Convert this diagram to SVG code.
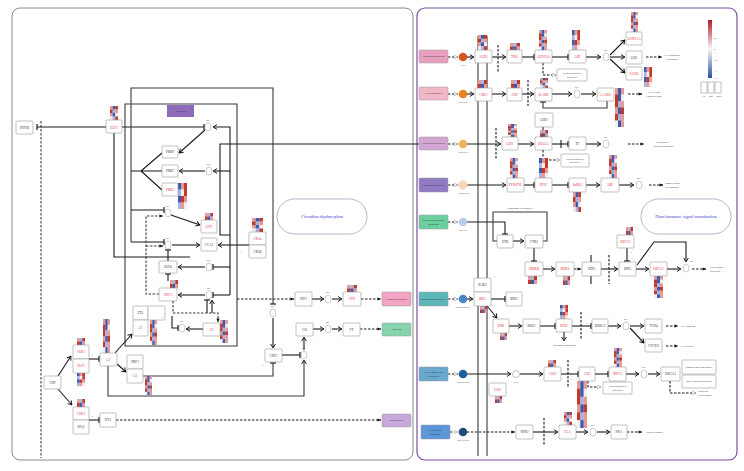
<svg xmlns="http://www.w3.org/2000/svg" xmlns:xlink="http://www.w3.org/1999/xlink" width="744" height="471" viewBox="0 0 744 471">
<style>
.bx{fill:#fff;stroke:#999;stroke-width:.6}
.tk{font-family:"Liberation Serif",serif;font-size:3.3px;fill:#333;text-anchor:middle}
.tr{font-family:"Liberation Serif",serif;font-size:3.3px;fill:#e8383d;text-anchor:middle}
.ts{font-family:"Liberation Serif",serif;font-size:2.3px;fill:#333;text-anchor:middle}
.tl{font-family:"Liberation Serif",serif;font-size:2.3px;fill:#333;text-anchor:start}
.dn{font-family:"Liberation Sans",sans-serif;font-size:2px;fill:#666;text-anchor:middle}
.l{fill:none;stroke:#1a1a1a;stroke-width:1.1}
.g{stroke:#3a3a3a}
.d{stroke-dasharray:2.5 1.5}
.dna{fill:#fff;stroke:#999;stroke-width:.5}
.src{stroke:#999;stroke-width:.5}
.ttl{font-family:"Liberation Serif",serif;font-size:4.5px;fill:#4040d0;text-anchor:middle}
</style>
<defs>
<marker id="a" viewBox="0 0 8 10" refX="7.5" refY="5" markerWidth="4.6" markerHeight="5.6" orient="auto"><path d="M1,1 L7,5 L1,9" fill="none" stroke="#1a1a1a" stroke-width="1.6"/></marker>
<marker id="f" viewBox="0 0 10 10" refX="9" refY="5" markerWidth="3.6" markerHeight="3.6" orient="auto"><path d="M0,1 L10,5 L0,9z" fill="#1a1a1a"/></marker>
<marker id="t" viewBox="0 0 2 10" refX="1" refY="5" markerWidth="1.4" markerHeight="5.4" orient="auto"><rect x="0" y="0" width="2" height="10" fill="#1a1a1a"/></marker>
<marker id="o" viewBox="0 0 10 10" refX="9" refY="5" markerWidth="4.4" markerHeight="4.4" orient="auto"><path d="M1,1 L9,5 L1,9z" fill="#fff" stroke="#888" stroke-width="1"/></marker>
<linearGradient id="lg" x1="0" y1="0" x2="0" y2="1"><stop offset="0" stop-color="#b2182b"/><stop offset=".5" stop-color="#f7f7f7"/><stop offset="1" stop-color="#2c4ea8"/></linearGradient>
<symbol id="h1" viewBox="0 0 3 4" preserveAspectRatio="none"><rect x="0" y="0" width="1.05" height="1.05" fill="#e59a9a"/><rect x="1" y="0" width="1.05" height="1.05" fill="#3b5bb0"/><rect x="2" y="0" width="1" height="1.05" fill="#c0392b"/><rect x="0" y="1" width="1.05" height="1.05" fill="#c0392b"/><rect x="1" y="1" width="1.05" height="1.05" fill="#a6b4de"/><rect x="2" y="1" width="1" height="1.05" fill="#e59a9a"/><rect x="0" y="2" width="1.05" height="1.05" fill="#e59a9a"/><rect x="1" y="2" width="1.05" height="1.05" fill="#3b5bb0"/><rect x="2" y="2" width="1" height="1.05" fill="#f3eeee"/><rect x="0" y="3" width="1.05" height="1" fill="#f3eeee"/><rect x="1" y="3" width="1.05" height="1" fill="#a6b4de"/><rect x="2" y="3" width="1" height="1" fill="#c0392b"/></symbol>
<symbol id="h2" viewBox="0 0 3 4" preserveAspectRatio="none"><rect x="0" y="0" width="1.05" height="1.05" fill="#3b5bb0"/><rect x="1" y="0" width="1.05" height="1.05" fill="#e59a9a"/><rect x="2" y="0" width="1" height="1.05" fill="#c0392b"/><rect x="0" y="1" width="1.05" height="1.05" fill="#a6b4de"/><rect x="1" y="1" width="1.05" height="1.05" fill="#f3eeee"/><rect x="2" y="1" width="1" height="1.05" fill="#c0392b"/><rect x="0" y="2" width="1.05" height="1.05" fill="#3b5bb0"/><rect x="1" y="2" width="1.05" height="1.05" fill="#c0392b"/><rect x="2" y="2" width="1" height="1.05" fill="#e59a9a"/><rect x="0" y="3" width="1.05" height="1" fill="#a6b4de"/><rect x="1" y="3" width="1.05" height="1" fill="#e59a9a"/><rect x="2" y="3" width="1" height="1" fill="#f3eeee"/></symbol>
<symbol id="h3" viewBox="0 0 3 2" preserveAspectRatio="none"><rect x="0" y="0" width="1.05" height="1.05" fill="#e59a9a"/><rect x="1" y="0" width="1.05" height="1.05" fill="#a6b4de"/><rect x="2" y="0" width="1" height="1.05" fill="#c0392b"/><rect x="0" y="1" width="1.05" height="1" fill="#c0392b"/><rect x="1" y="1" width="1.05" height="1" fill="#3b5bb0"/><rect x="2" y="1" width="1" height="1" fill="#e59a9a"/></symbol>
<symbol id="h4" viewBox="0 0 3 6" preserveAspectRatio="none"><rect x="0" y="0" width="1.05" height="1.05" fill="#e59a9a"/><rect x="1" y="0" width="1.05" height="1.05" fill="#3b5bb0"/><rect x="2" y="0" width="1" height="1.05" fill="#e59a9a"/><rect x="0" y="1" width="1.05" height="1.05" fill="#c0392b"/><rect x="1" y="1" width="1.05" height="1.05" fill="#3b5bb0"/><rect x="2" y="1" width="1" height="1.05" fill="#f3eeee"/><rect x="0" y="2" width="1.05" height="1.05" fill="#c0392b"/><rect x="1" y="2" width="1.05" height="1.05" fill="#a6b4de"/><rect x="2" y="2" width="1" height="1.05" fill="#e59a9a"/><rect x="0" y="3" width="1.05" height="1.05" fill="#e59a9a"/><rect x="1" y="3" width="1.05" height="1.05" fill="#3b5bb0"/><rect x="2" y="3" width="1" height="1.05" fill="#c0392b"/><rect x="0" y="4" width="1.05" height="1.05" fill="#c0392b"/><rect x="1" y="4" width="1.05" height="1.05" fill="#a6b4de"/><rect x="2" y="4" width="1" height="1.05" fill="#e59a9a"/><rect x="0" y="5" width="1.05" height="1" fill="#f3eeee"/><rect x="1" y="5" width="1.05" height="1" fill="#3b5bb0"/><rect x="2" y="5" width="1" height="1" fill="#e59a9a"/></symbol>
</defs>
<rect width="744" height="471" fill="#fff"/>
<rect x="12" y="8" width="401" height="452" rx="8" fill="none" stroke="#8a8a8a" stroke-width="1"/>
<rect x="417" y="8" width="320" height="452" rx="8" fill="none" stroke="#7b4f9d" stroke-width="1.2"/>

<g id="connectors">
<path class="l" d="M106,127H37" marker-end="url(#t)"/>
<path class="l d g" d="M41,121V458"/>
<path class="l" d="M122,127H204" marker-end="url(#t)"/>
<path class="l" d="M230,295V127H213" marker-end="url(#a)"/>
<path class="l" d="M230,171H213" marker-end="url(#a)"/>
<path class="l" d="M230,267H213" marker-end="url(#t)"/>
<path class="l" d="M230,295H213" marker-end="url(#t)"/>
<path class="l" d="M205,130L179,153" marker-end="url(#a)"/>
<path class="l" d="M205,171H179" marker-end="url(#a)"/>
<path class="l" d="M205,267H178" marker-end="url(#a)"/>
<path class="l" d="M205,295H178" marker-end="url(#a)"/>
<path class="l" d="M419,144H220V235H230"/>
<path class="l g" d="M131,242V88H273V304" marker-end="url(#t)"/>
<path class="l" d="M131,171H141M162,153L141,171L162,171M141,171L162,190"/>
<path class="l" d="M131,210H164" marker-end="url(#t)"/>
<path class="l" d="M131,242H164" marker-end="url(#t)"/>
<path class="l d g" d="M159,294H146V216H163" marker-end="url(#f)"/>
<path class="l d g" d="M146,246H163" marker-end="url(#f)"/>
<path class="l" d="M171,215L200,225" marker-end="url(#a)"/>
<path class="l" d="M172,245H200" marker-end="url(#a)"/>
<path class="l" d="M249,245H218" marker-end="url(#a)"/>
<path class="l" d="M168,261V250" marker-end="url(#t)"/>
<path class="l" d="M168,281V274" marker-end="url(#t)"/>
<path class="l g" d="M125,346V104H237V346Z"/>
<path class="l" d="M114,133V257H190"/>
<path class="l d g" d="M173,301V313H218V322" marker-end="url(#f)"/>
<path class="l" d="M212,313V300" marker-end="url(#a)"/>
<path class="l" d="M207,313V300" marker-end="url(#t)"/>
<path class="l" d="M172,316V328H178" marker-end="url(#t)"/>
<path class="l" d="M203,329H186" marker-end="url(#a)"/>
<path class="l" d="M273,318V348" marker-end="url(#a)"/>
<path class="l" d="M282,355H300" marker-end="url(#t)"/>
<path class="l" d="M304,350V337" marker-end="url(#a)"/>
<path class="l" d="M313,329H324" marker-end="url(#a)"/>
<path class="l" d="M332,329H342" marker-end="url(#a)"/>
<path class="l d" d="M360,329H381" marker-end="url(#f)"/>
<path class="l d" d="M237,299H294" marker-end="url(#f)"/>
<path class="l" d="M312,299H324" marker-end="url(#a)"/>
<path class="l" d="M332,299H342" marker-end="url(#a)"/>
<path class="l d" d="M361,299H381" marker-end="url(#f)"/>
<path class="l g" d="M108,366V396H304V360" marker-end="url(#a)"/>
<path class="l g" d="M143,376H273V363" marker-end="url(#t)"/>
<path class="l" d="M115,353L132,334" marker-end="url(#a)"/>
<path class="l" d="M117,364L126,372" marker-end="url(#a)"/>
<path class="l" d="M89,359H99" marker-end="url(#t)"/>
<path class="l" d="M58,376L71,356" marker-end="url(#a)"/>
<path class="l" d="M58,389L72,405" marker-end="url(#a)"/>
<path class="l" d="M89,420H99" marker-end="url(#t)"/>
<path class="l d" d="M116,420H381" marker-end="url(#f)"/>
<path class="l g" d="M478,36V456M487,36V456" stroke-width=".8"/>
<path class="l d" d="M448,57H458" marker-end="url(#o)"/>
<path class="l d" d="M448,94H458" marker-end="url(#o)"/>
<path class="l d" d="M448,144H458" marker-end="url(#o)"/>
<path class="l d" d="M448,185H458" marker-end="url(#o)"/>
<path class="l d" d="M448,222H458" marker-end="url(#o)"/>
<path class="l d" d="M448,299H458" marker-end="url(#o)"/>
<path class="l d" d="M448,374H458" marker-end="url(#o)"/>
<path class="l d" d="M450,432H458" marker-end="url(#o)"/>
<path class="l" d="M467,57H474" marker-end="url(#a)"/>
<path class="l" d="M492,57H506" marker-end="url(#a)"/>
<path class="l d" d="M498,45V72"/>
<path class="l" d="M522,57H534" marker-end="url(#t)"/>
<path class="l" d="M552,57H568" marker-end="url(#t)"/>
<path class="l" d="M586,57H601" marker-end="url(#a)"/>
<path class="l" d="M610,55L625,40" marker-end="url(#a)"/>
<path class="l" d="M610,57H625" marker-end="url(#a)"/>
<path class="l" d="M610,59L625,73" marker-end="url(#a)"/>
<path class="l d" d="M646,57H662" marker-end="url(#f)"/>
<path class="l d" d="M543,63V75H556" marker-end="url(#o)"/>
<path class="l" d="M467,94H474" marker-end="url(#a)"/>
<path class="l" d="M492,94H506" marker-end="url(#a)"/>
<path class="l" d="M522,94H534" marker-end="url(#a)"/>
<path class="l d" d="M528,80V106"/>
<path class="l" d="M552,94H572" marker-end="url(#a)"/>
<path class="l" d="M581,94H596" marker-end="url(#a)"/>
<path class="l d" d="M628,94H642" marker-end="url(#f)"/>
<path class="l g" d="M607,101V108H543V102" marker-end="url(#t)"/>
<path class="l" d="M467,144H501" marker-end="url(#a)"/>
<path class="l d" d="M496,128V160"/>
<path class="l" d="M518,144H534" marker-end="url(#a)"/>
<path class="l" d="M543,127V136" marker-end="url(#t)"/>
<path class="l" d="M552,144H568" marker-end="url(#t)"/>
<path class="l" d="M561,140V148"/>
<path class="l" d="M586,144H601" marker-end="url(#a)"/>
<path class="l d" d="M628,144H644" marker-end="url(#f)"/>
<path class="l d" d="M543,150V160H560" marker-end="url(#o)"/>
<path class="l" d="M467,185H506" marker-end="url(#a)"/>
<path class="l" d="M524,185H534" marker-end="url(#t)"/>
<path class="l" d="M552,185H568" marker-end="url(#t)"/>
<path class="l" d="M586,185H600" marker-end="url(#a)"/>
<path class="l" d="M619,185H634" marker-end="url(#a)"/>
<path class="l d" d="M649,185H663" marker-end="url(#f)"/>
<path class="l" d="M467,222H505V234" marker-end="url(#t)"/>
<path class="l g" d="M497,241H493V212H547V241H543"/>
<path class="l" d="M513,241H524" marker-end="url(#a)"/>
<path class="l" d="M534,248V261" marker-end="url(#t)"/>
<path class="l" d="M543,269H555" marker-end="url(#a)"/>
<path class="l d" d="M574,269H581" marker-end="url(#f)"/>
<path class="l" d="M591,255V284"/>
<path class="l" d="M601,269H618" marker-end="url(#a)"/>
<path class="l d" d="M609,255V284"/>
<path class="l" d="M627,248V261" marker-end="url(#t)"/>
<path class="l" d="M636,269H649" marker-end="url(#a)"/>
<path class="l" d="M637,265L654,242H686V262" marker-end="url(#a)"/>
<path class="l" d="M667,269H681" marker-end="url(#a)"/>
<path class="l d" d="M692,269H706" marker-end="url(#f)"/>
<path class="l" d="M467,299H473" marker-end="url(#a)"/>
<path class="l" d="M491,299H505" marker-end="url(#t)"/>
<path class="l" d="M487,306L497,318" marker-end="url(#a)"/>
<path class="l" d="M509,326H522" marker-end="url(#a)"/>
<path class="l" d="M540,326H555" marker-end="url(#t)"/>
<path class="l" d="M564,332V341" marker-end="url(#a)"/>
<path class="l" d="M572,326H591" marker-end="url(#t)"/>
<path class="l d" d="M581,312V340"/>
<path class="l" d="M608,326H621" marker-end="url(#a)"/>
<path class="l" d="M630,326H644" marker-end="url(#a)"/>
<path class="l" d="M630,328L644,343" marker-end="url(#a)"/>
<path class="l d" d="M666,326H678" marker-end="url(#f)"/>
<path class="l d" d="M666,346H678" marker-end="url(#f)"/>
<path class="l" d="M467,374H511" marker-end="url(#a)"/>
<path class="l" d="M520,374H543" marker-end="url(#a)"/>
<path class="l" d="M561,374H578" marker-end="url(#t)"/>
<path class="l d" d="M568,360V388"/>
<path class="l" d="M595,374H608" marker-end="url(#t)"/>
<path class="l" d="M626,374H639" marker-end="url(#a)"/>
<path class="l" d="M648,374H660" marker-end="url(#a)"/>
<path class="l d" d="M588,381V387H601" marker-end="url(#o)"/>
<path class="l d" d="M670,381V393H696" marker-end="url(#o)"/>
<path class="l d" d="M467,432H515" marker-end="url(#f)"/>
<path class="l" d="M533,432H558" marker-end="url(#a)"/>
<path class="l d" d="M544,418V446"/>
<path class="l" d="M576,432H588" marker-end="url(#a)"/>
<path class="l" d="M597,432H610" marker-end="url(#a)"/>
<path class="l d" d="M627,432H642" marker-end="url(#f)"/>
</g>

<g id="n-PHYB"><rect class="bx" x="16" y="121" width="17" height="13" rx="1"/><text class="tk" x="24.5" y="128.6">PHYB</text></g>
<g id="n-ELF3"><use href="#h1" x="110" y="106" width="8" height="14"/><rect class="bx" x="106" y="120" width="16" height="13" rx="1"/><text class="tr" x="114" y="128.6">ELF3</text></g>
<g id="n-cold"><rect x="167" y="105" width="27" height="12" fill="#8e6bb8"/><text class="ts" x="180.5" y="112">Cold stress</text></g>
<g id="n-PRR9"><rect class="bx" x="162" y="146" width="16" height="12" rx="1"/><text class="tk" x="170" y="153.1">PRR9</text></g>
<g id="n-PRR7"><rect class="bx" x="162" y="165" width="16" height="12" rx="1"/><text class="tk" x="170" y="172.1">PRR7</text></g>
<g id="n-PRR5"><use href="#h2" x="178" y="183" width="9" height="26"/><rect class="bx" x="162" y="183" width="16" height="13" rx="1"/><text class="tr" x="170" y="190.6">PRR5</text></g>
<g id="n-LHY"><use href="#h3" x="205" y="213" width="8" height="7"/><rect class="bx" x="201" y="220" width="16" height="13" rx="1"/><text class="tr" x="209" y="227.6">LHY</text></g>
<g id="n-CCA1"><rect class="bx" x="201" y="238" width="16" height="13" rx="1"/><text class="tk" x="209" y="245.6">CCA1</text></g>
<g id="n-CK2"><use href="#h1" x="252" y="218" width="11" height="14"/><rect class="bx" x="249" y="232" width="17" height="13" rx="1"/><text class="tr" x="257.5" y="239.6">CK2α</text><rect class="bx" x="249" y="245" width="17" height="13" rx="1"/><text class="tk" x="257.5" y="252.6">CK2β</text><text class="dn" x="241" y="252">?</text></g>
<g id="n-ELF4"><rect class="bx" x="159" y="261" width="18" height="12" rx="1"/><text class="tk" x="168" y="268.1">ELF4</text></g>
<g id="n-TOC1"><use href="#h3" x="170" y="280" width="8" height="8"/><rect class="bx" x="159" y="288" width="18" height="13" rx="1"/><text class="tr" x="168" y="295.6">TOC1</text></g>
<g id="n-ZTL"><rect class="bx" x="133" y="306" width="15" height="14" rx="1"/><text class="tk" x="140.5" y="314.1">ZTL</text><rect class="bx" x="148" y="306" width="17" height="14" rx="1"/><text class="dn" x="162" y="318">?</text></g>
<g id="n-GIa"><use href="#h4" x="150" y="320" width="7" height="25"/><rect class="bx" x="133" y="320" width="15" height="16" rx="1"/><text class="tr" x="140.5" y="329.1">GI</text></g>
<g id="n-GIb"><use href="#h4" x="220" y="320" width="8" height="23"/><rect class="bx" x="203" y="323" width="17" height="13" rx="1"/><text class="tr" x="211.5" y="330.6">GI</text></g>
<g id="n-CRY"><rect class="bx" x="44" y="376" width="17" height="13" rx="1"/><text class="tk" x="52.5" y="383.6">CRY</text></g>
<g id="n-COP1a"><use href="#h3" x="77" y="338" width="8" height="7"/><use href="#h2" x="77" y="373" width="8" height="13"/><rect class="bx" x="73" y="345" width="16" height="14" rx="1"/><text class="tr" x="81" y="353.1">COP1</text><rect class="bx" x="73" y="359" width="16" height="14" rx="1"/><text class="tr" x="81" y="367.1">ELF3</text><text class="dn" x="92" y="356">?</text></g>
<g id="n-COP1b"><use href="#h3" x="77" y="399" width="8" height="8"/><rect class="bx" x="73" y="407" width="16" height="13" rx="1"/><text class="tr" x="81" y="414.6">COP1</text><rect class="bx" x="73" y="420" width="16" height="14" rx="1"/><text class="tk" x="81" y="428.1">SPA1</text><text class="dn" x="92" y="417">?</text></g>
<g id="n-GIc"><use href="#h4" x="103" y="319" width="7" height="34"/><rect class="bx" x="100" y="353" width="17" height="13" rx="1"/><text class="tr" x="108.5" y="360.6">GI</text></g>
<g id="n-FKF1"><rect class="bx" x="127" y="355" width="16" height="14" rx="1"/><text class="tk" x="135" y="363.1">FKF1</text></g>
<g id="n-GId"><use href="#h4" x="145" y="376" width="7" height="19"/><rect class="bx" x="127" y="369" width="16" height="14" rx="1"/><text class="tr" x="135" y="377.1">GI</text></g>
<g id="n-HY5"><rect class="bx" x="100" y="413" width="16" height="14" rx="1"/><text class="tk" x="108" y="421.1">HY5</text></g>
<g id="n-CDF1"><rect class="bx" x="265" y="349" width="17" height="13" rx="1"/><text class="tk" x="273.5" y="356.6">CDF1</text><text class="dn" x="263" y="366">?</text></g>
<g id="n-CO"><rect class="bx" x="296" y="323" width="17" height="13" rx="1"/><text class="tk" x="304.5" y="330.6">CO</text></g>
<g id="n-FT"><rect class="bx" x="343" y="323" width="17" height="13" rx="1"/><text class="tk" x="351.5" y="330.6">FT</text></g>
<g id="n-PIF3"><rect class="bx" x="295" y="292" width="17" height="14" rx="1"/><text class="tk" x="303.5" y="300.1">PIF3</text></g>
<g id="n-CHS"><use href="#h3" x="347" y="285" width="10" height="7"/><rect class="bx" x="343" y="292" width="18" height="14" rx="1"/><text class="tr" x="352" y="300.1">CHS</text></g>
<g id="n-flav"><rect class="src" x="382" y="292" width="29" height="14" rx="1" fill="#f4a3c4"/><text class="ts" x="396.5" y="299.8">Flavonoid biosynthesis</text></g>
<g id="n-flow"><rect class="src" x="382" y="323" width="29" height="13" rx="1" fill="#86d4ae"/><text class="ts" x="396.5" y="330.3">Flowering</text></g>
<g id="n-photo"><rect class="src" x="382" y="414" width="29" height="13" rx="1" fill="#c9a9dc"/><text class="ts" x="396.5" y="421.3">Photosynthesis</text></g>
<g id="n-circ"><rect x="277" y="199" width="90" height="35" rx="17.5" fill="#fff" stroke="#9a9ab8" stroke-width=".7"/><text class="ttl" x="322" y="218">Circadian rhythm-plant</text></g>
<g id="dna-left">
<ellipse class="dna" cx="208" cy="127" rx="3" ry="4"/><text class="dn" x="208" y="121">DNA</text>
<ellipse class="dna" cx="209" cy="171" rx="3" ry="4"/><text class="dn" x="209" y="165">DNA</text>
<ellipse class="dna" cx="168" cy="213" rx="3" ry="4"/><text class="dn" x="168" y="207">DNA</text>
<ellipse class="dna" cx="168" cy="245" rx="3" ry="4"/><text class="dn" x="168" y="239">DNA</text>
<ellipse class="dna" cx="209" cy="267" rx="3" ry="4"/><text class="dn" x="209" y="261">DNA</text>
<ellipse class="dna" cx="209" cy="295" rx="3" ry="4"/><text class="dn" x="209" y="289">DNA</text>
<ellipse class="dna" cx="182" cy="328" rx="3" ry="4"/><text class="dn" x="182" y="322">DNA</text>
<ellipse class="dna" cx="273" cy="313" rx="3" ry="4"/><text class="dn" x="273" y="307">DNA</text>
<ellipse class="dna" cx="304" cy="355" rx="3" ry="4"/><text class="dn" x="304" y="349">DNA</text>
<ellipse class="dna" cx="328" cy="299" rx="3" ry="4"/><text class="dn" x="328" y="293">DNA</text>
<ellipse class="dna" cx="328" cy="329" rx="3" ry="4"/><text class="dn" x="328" y="323">DNA</text>
</g>

<g id="n-src1"><rect class="src" x="419" y="50" width="29" height="13" rx="1" fill="#e9a0c0"/><text class="ts" x="433.5" y="57.3">Tryptophan metabolism</text><circle cx="463" cy="57" r="4.3" fill="#d4561e"/><text class="dn" x="463" y="65.5">Auxin</text></g>
<g id="n-src2"><rect class="src" x="419" y="87" width="29" height="13" rx="1" fill="#f2b8c8"/><text class="ts" x="433.5" y="94.3">Zeatin biosynthesis</text><circle cx="463" cy="94" r="4.3" fill="#e8841d"/><text class="dn" x="463" y="102.5">Cytokinine</text></g>
<g id="n-src3"><rect class="src" x="419" y="137" width="29" height="13" rx="1" fill="#d4a6d4"/><text class="ts" x="433.5" y="144.3">Diterpenoid biosynthesis</text><circle cx="463" cy="144" r="4.3" fill="#f2b25c"/><text class="dn" x="463" y="152.5">Gibberellin</text></g>
<g id="n-src4"><rect class="src" x="419" y="178" width="29" height="14" rx="1" fill="#8f7cc4"/><text class="ts" x="433.5" y="185.8">Carotenoid biosynthesis</text><circle cx="463" cy="185" r="4.3" fill="#fbd8b5" stroke="#ccc" stroke-width=".4"/><text class="dn" x="463" y="193.5">Abscisic acid</text></g>
<g id="n-src5"><rect class="src" x="419" y="215" width="29" height="14" rx="1" fill="#6ccf9f"/><text class="ts" x="433.5" y="221">Cysteine and methionine</text><text class="ts" x="433.5" y="224.5">metabolism</text><circle cx="463" cy="222" r="4.3" fill="#b7cdea"/><text class="dn" x="463" y="230.5">Ethylene</text></g>
<g id="n-src6"><rect class="src" x="419" y="292" width="29" height="14" rx="1" fill="#5cb8b8"/><text class="ts" x="433.5" y="299.8">Brassinosteroid biosynthesis</text><circle cx="463" cy="299" r="4.3" fill="#4a87c6"/><text class="dn" x="463" y="307.5">Brassinosteroid</text></g>
<g id="n-src7"><rect class="src" x="419" y="367" width="29" height="14" rx="1" fill="#6aa8d0"/><text class="ts" x="433.5" y="373">alpha-Linolenic acid</text><text class="ts" x="433.5" y="376.5">metabolism</text><circle cx="463" cy="374" r="4.3" fill="#1f5e9c"/><text class="dn" x="463" y="382.5">Jasmonic acid</text></g>
<g id="n-src8"><rect class="src" x="421" y="425" width="29" height="14" rx="1" fill="#5a96d8"/><text class="ts" x="435.5" y="431">Phenylalanine</text><text class="ts" x="435.5" y="434.5">metabolism</text><circle cx="463" cy="432" r="4.3" fill="#1f4d80"/><text class="dn" x="463" y="440.5">Salicylic acid</text></g>

<g id="n-AUX1"><use href="#h1" x="478" y="35" width="9" height="15"/><rect class="bx" x="475" y="50" width="17" height="13" rx="1"/><text class="tr" x="483.5" y="57.6">AUX1</text></g>
<g id="n-TIR1"><use href="#h3" x="510" y="43" width="10" height="7"/><rect class="bx" x="507" y="50" width="15" height="13" rx="1"/><text class="tr" x="514.5" y="57.6">TIR1</text></g>
<g id="n-AUXIAA"><use href="#h4" x="539" y="30" width="8" height="20"/><rect class="bx" x="535" y="50" width="17" height="13" rx="1"/><text class="tr" x="543.5" y="57.6">AUX/IAA</text></g>
<g id="n-ARF"><use href="#h2" x="572" y="30" width="8" height="20"/><rect class="bx" x="569" y="50" width="17" height="13" rx="1"/><text class="tr" x="577.5" y="57.6">ARF</text></g>
<g id="n-AUXIAA2"><use href="#h4" x="631" y="12" width="7" height="20"/><rect class="bx" x="626" y="32" width="16" height="13" rx="1"/><text class="tr" x="634" y="39.6">AUX/IAA</text></g>
<g id="n-GH3"><rect class="bx" x="626" y="51" width="16" height="13" rx="1"/><text class="tk" x="634" y="58.6">GH3</text></g>
<g id="n-SAUR"><use href="#h2" x="644" y="67" width="8" height="20"/><rect class="bx" x="626" y="67" width="16" height="13" rx="1"/><text class="tr" x="634" y="74.6">SAUR</text></g>
<g id="n-ub1"><rect class="bx" x="557" y="69" width="30" height="12" rx="1"/><text class="ts" x="572" y="74.3">Ubiquitin mediated</text><text class="ts" x="572" y="77.8">proteolysis</text></g>
<g id="n-out1"><text class="tl" x="664" y="56">Cell enlargement</text><text class="tl" x="666" y="59.5">Plant growth</text></g>

<g id="n-CRE1"><use href="#h3" x="478" y="80" width="9" height="8"/><rect class="bx" x="475" y="88" width="17" height="13" rx="1"/><text class="tr" x="483.5" y="95.6">CRE1</text><text class="dn" x="499" y="92">?</text></g>
<g id="n-AHP"><use href="#h3" x="511" y="80" width="9" height="8"/><rect class="bx" x="507" y="88" width="15" height="13" rx="1"/><text class="tr" x="514.5" y="95.6">AHP</text></g>
<g id="n-BARR"><use href="#h1" x="540" y="78" width="8" height="10"/><rect class="bx" x="535" y="88" width="17" height="13" rx="1"/><text class="tr" x="543.5" y="95.6">B-ARR</text></g>
<g id="n-AARR"><use href="#h4" x="615" y="88" width="9" height="39"/><rect class="bx" x="597" y="88" width="17" height="13" rx="1"/><text class="tr" x="605.5" y="95.6">A-ARR</text></g>
<g id="n-out2"><text class="tl" x="648" y="93">Cell division</text><text class="tl" x="647" y="96.5">Shoot initiation</text></g>

<g id="n-GID1"><use href="#h4" x="508" y="124" width="9" height="13"/><rect class="bx" x="502" y="137" width="16" height="13" rx="1"/><text class="tr" x="510" y="144.6">GID1</text></g>
<g id="n-GID2"><rect class="bx" x="535" y="113" width="18" height="14" rx="1"/><text class="tk" x="544" y="121.1">GID2</text></g>
<g id="n-DELLA"><use href="#h3" x="540" y="130" width="8" height="7"/><rect class="bx" x="535" y="137" width="17" height="13" rx="1"/><text class="tr" x="543.5" y="144.6">DELLA</text></g>
<g id="n-TF"><rect class="bx" x="569" y="137" width="17" height="13" rx="1"/><text class="tk" x="577.5" y="144.6">TF</text></g>
<g id="n-ub2"><rect class="bx" x="561" y="154" width="28" height="13" rx="1"/><text class="ts" x="575" y="159.6">Ubiquitin mediated</text><text class="ts" x="575" y="163.1">proteolysis</text></g>
<g id="n-out3"><text class="tl" x="656" y="143">Stem growth</text><text class="tl" x="654" y="146.5">Induced germination</text></g>

<g id="n-PYR"><use href="#h4" x="510" y="158" width="8" height="20"/><rect class="bx" x="507" y="178" width="17" height="14" rx="1"/><text class="tr" x="515.5" y="186.1">PYR/PYL</text></g>
<g id="n-PP2C"><use href="#h2" x="539" y="158" width="9" height="20"/><rect class="bx" x="535" y="178" width="17" height="14" rx="1"/><text class="tr" x="543.5" y="186.1">PP2C</text></g>
<g id="n-SnRK2"><use href="#h1" x="573" y="192" width="8" height="20"/><rect class="bx" x="569" y="178" width="17" height="14" rx="1"/><text class="tr" x="577.5" y="186.1">SnRK2</text></g>
<g id="n-ABF"><use href="#h4" x="609" y="155" width="8" height="23"/><rect class="bx" x="601" y="178" width="18" height="14" rx="1"/><text class="tr" x="610" y="186.1">ABF</text></g>
<g id="n-out4"><text class="tl" x="665" y="184">Stomatal closure</text><text class="tl" x="665" y="187.5">Seed dormancy</text></g>

<g id="n-ETR"><rect class="bx" x="497" y="235" width="16" height="13" rx="1"/><text class="tk" x="505" y="242.6">ETR</text></g>
<g id="n-CTR1"><rect class="bx" x="525" y="235" width="18" height="13" rx="1"/><text class="tk" x="534" y="242.6">CTR1</text></g>
<g id="n-ER"><text class="ts" x="520" y="209">Endoplasmic reticulum(ER)</text></g>
<g id="n-SIMKK"><use href="#h3" x="528" y="276" width="9" height="8"/><rect class="bx" x="525" y="262" width="18" height="14" rx="1"/><text class="tr" x="534" y="270.1">SIMKK</text><text class="dn" x="547" y="267">?</text></g>
<g id="n-MPK6"><use href="#h3" x="563" y="276" width="7" height="9"/><rect class="bx" x="556" y="262" width="18" height="14" rx="1"/><text class="tr" x="565" y="270.1">MPK6</text></g>
<g id="n-EIN2"><rect class="bx" x="582" y="262" width="19" height="14" rx="1"/><text class="tk" x="591.5" y="270.1">EIN2</text></g>
<g id="n-EIN3"><rect class="bx" x="619" y="262" width="17" height="14" rx="1"/><text class="tk" x="627.5" y="270.1">EIN3</text></g>
<g id="n-EBF12"><use href="#h3" x="626" y="227" width="7" height="8"/><rect class="bx" x="617" y="235" width="17" height="13" rx="1"/><text class="tr" x="625.5" y="242.6">EBF1/2</text><text class="dn" x="631" y="253">?</text></g>
<g id="n-EBF2"><use href="#h4" x="654" y="276" width="9" height="22"/><rect class="bx" x="650" y="262" width="17" height="14" rx="1"/><text class="tr" x="658.5" y="270.1">EBF1/2</text></g>
<g id="n-out5"><text class="tl" x="710" y="268">Fruit ripening</text><text class="tl" x="710" y="271.5">Senescence</text></g>
<g id="n-phst"><rect x="641" y="199" width="90" height="35" rx="17.5" fill="#fff" stroke="#9a9ab8" stroke-width=".7"/><text class="ttl" x="686" y="218">Plant hormone signal transduction</text></g>

<g id="n-BAK1"><rect class="bx" x="474" y="278" width="17" height="14" rx="1"/><text class="tk" x="482.5" y="286.1">BAK1</text><text class="dn" x="494" y="277">?</text></g>
<g id="n-BRI1"><use href="#h3" x="480" y="306" width="7" height="7"/><rect class="bx" x="474" y="292" width="17" height="14" rx="1"/><text class="tr" x="482.5" y="300.1">BRI1</text></g>
<g id="n-BKI1"><rect class="bx" x="506" y="292" width="16" height="14" rx="1"/><text class="tk" x="514" y="300.1">BKI1</text></g>
<g id="n-BSK"><use href="#h3" x="500" y="333" width="7" height="7"/><rect class="bx" x="493" y="319" width="16" height="14" rx="1"/><text class="tr" x="501" y="327.1">BSK</text></g>
<g id="n-BSU1"><rect class="bx" x="523" y="319" width="17" height="14" rx="1"/><text class="tk" x="531.5" y="327.1">BSU1</text></g>
<g id="n-BIN2"><use href="#h2" x="560" y="305" width="8" height="14"/><rect class="bx" x="556" y="319" width="16" height="13" rx="1"/><text class="tr" x="564" y="326.6">BIN2</text><text class="ts" x="564" y="346">Proteasomal degradation</text><text class="dn" x="587" y="324">?</text></g>
<g id="n-BZR"><rect class="bx" x="592" y="319" width="16" height="14" rx="1"/><text class="tk" x="600" y="327.1">BZR1/2</text></g>
<g id="n-TCH4"><rect class="bx" x="645" y="319" width="17" height="14" rx="1"/><text class="tk" x="653.5" y="327.1">TCH4</text></g>
<g id="n-CYCD3"><rect class="bx" x="645" y="339" width="17" height="13" rx="1"/><text class="tk" x="653.5" y="346.6">CYCD3</text></g>
<g id="n-out6"><text class="tl" x="681" y="327">Cell elongation</text><text class="tl" x="681" y="347">Cell division</text></g>

<g id="n-JAIle"><circle cx="516" cy="374" r="3.5" fill="#fff" stroke="#888" stroke-width=".5"/><text class="dn" x="516" y="383">JA-Ile</text></g>
<g id="n-JAR1"><use href="#h3" x="495" y="396" width="7" height="7"/><rect class="bx" x="489" y="383" width="17" height="13" rx="1"/><text class="tr" x="497.5" y="390.6">JAR1</text></g>
<g id="n-COI1"><use href="#h3" x="548" y="360" width="8" height="7"/><rect class="bx" x="544" y="367" width="17" height="14" rx="1"/><text class="tr" x="552.5" y="375.1">COI1</text><text class="dn" x="571" y="380">?</text></g>
<g id="n-JAZ"><use href="#h4" x="577" y="381" width="10" height="47"/><rect class="bx" x="579" y="367" width="16" height="14" rx="1"/><text class="tr" x="587" y="375.1">JAZ</text></g>
<g id="n-MYC2"><use href="#h4" x="614" y="348" width="8" height="19"/><rect class="bx" x="609" y="367" width="17" height="14" rx="1"/><text class="tr" x="617.5" y="375.1">MYC2</text></g>
<g id="n-ub3"><rect class="bx" x="603" y="382" width="29" height="12" rx="1"/><text class="ts" x="617.5" y="387.3">Ubiquitin mediated</text><text class="ts" x="617.5" y="390.8">proteolysis</text></g>
<g id="n-ORCA3"><rect class="bx" x="661" y="367" width="19" height="14" rx="1"/><text class="tk" x="670.5" y="375.1">ORCA3</text></g>
<g id="n-mono"><rect class="bx" x="682" y="360" width="34" height="14" rx="1"/><text class="ts" x="699" y="367.8">Monoterpenoid biosynthesis</text></g>
<g id="n-indole"><rect class="bx" x="682" y="375" width="34" height="13" rx="1"/><text class="ts" x="699" y="382.3">Indole alkaloid biosynthesis</text></g>
<g id="n-out7"><text class="tl" x="698" y="392">Senescence</text><text class="tl" x="698" y="395.5">Stress response</text></g>

<g id="n-NPR1"><rect class="bx" x="516" y="425" width="17" height="14" rx="1"/><text class="tk" x="524.5" y="433.1">NPR1</text></g>
<g id="n-TGA"><use href="#h1" x="564" y="412" width="8" height="13"/><rect class="bx" x="559" y="425" width="17" height="14" rx="1"/><text class="tr" x="567.5" y="433.1">TGA</text></g>
<g id="n-PR1"><rect class="bx" x="611" y="425" width="16" height="14" rx="1"/><text class="tk" x="619" y="433.1">PR-1</text></g>
<g id="n-out8"><text class="tl" x="646" y="433">Disease resistance</text></g>

<g id="dna-right">
<ellipse class="dna" cx="606" cy="57" rx="3" ry="4"/><text class="dn" x="606" y="51">DNA</text>
<ellipse class="dna" cx="577" cy="94" rx="3" ry="4"/><text class="dn" x="577" y="88">DNA</text>
<ellipse class="dna" cx="606" cy="144" rx="3" ry="4"/><text class="dn" x="606" y="138">DNA</text>
<ellipse class="dna" cx="639" cy="185" rx="3" ry="4"/><text class="dn" x="639" y="179">DNA</text>
<ellipse class="dna" cx="686" cy="268" rx="3" ry="4"/><text class="dn" x="692" y="262">DNA</text>
<ellipse class="dna" cx="626" cy="326" rx="3" ry="4"/><text class="dn" x="626" y="320">DNA</text>
<ellipse class="dna" cx="644" cy="374" rx="3" ry="4"/><text class="dn" x="644" y="368">DNA</text>
<ellipse class="dna" cx="593" cy="432" rx="3" ry="4"/><text class="dn" x="593" y="426">DNA</text>
</g>

<g id="legend">
<rect x="708" y="20" width="4" height="58" fill="url(#lg)"/>
<text class="tl" x="714" y="28">1</text>
<text class="tl" x="714" y="39">0.5</text>
<text class="tl" x="714" y="50">0</text>
<text class="tl" x="714" y="61">-0.5</text>
<text class="tl" x="714" y="72">-1</text>
<text class="tl" x="714" y="78.5">-1.5</text>
<rect class="bx" x="701" y="82" width="6" height="11"/>
<rect class="bx" x="708" y="82" width="6" height="11"/>
<rect class="bx" x="715" y="82" width="6" height="11"/>
<text class="ts" x="704" y="97">CK</text>
<text class="ts" x="711" y="97">S4K</text>
<text class="ts" x="719" y="97">S4OK</text>
</g>
</svg>
